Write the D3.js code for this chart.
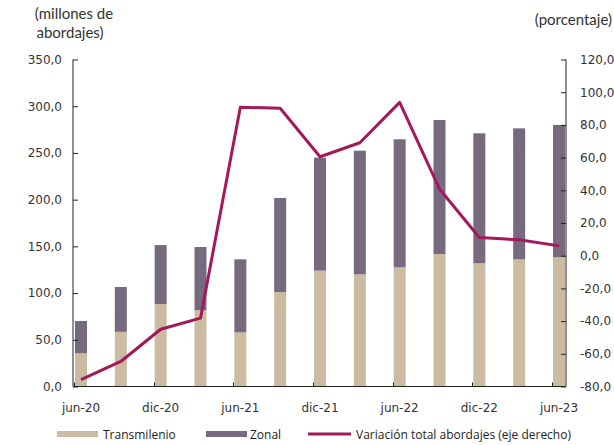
<!DOCTYPE html>
<html><head><meta charset="utf-8">
<script src="https://cdn.jsdelivr.net/npm/d3@7"></script>
<style>
html,body{margin:0;padding:0;background:#fff;}
svg{display:block;}
</style></head>
<body><svg id="c" width="614" height="445"></svg>
<script>
const categories = ["jun-20","sep-20","dic-20","mar-21","jun-21","sep-21","dic-21","mar-22","jun-22","sep-22","dic-22","mar-23","jun-23"];
const transmilenio = [35.5, 58.5, 88.3, 81.6, 58.0, 101.1, 124.0, 120.1, 127.6, 141.8, 131.9, 136.1, 138.3];
const zonal = [34.6, 48.0, 63.1, 67.7, 78.1, 100.7, 120.9, 132.3, 137.0, 143.4, 139.1, 140.2, 141.6];
const variacion = [-75.8, -64.7, -45.0, -38.2, 90.8, 90.2, 60.5, 69.1, 93.8, 40.8, 11.1, 9.7, 6.0];
const leftTicks = [0, 50, 100, 150, 200, 250, 300, 350];
const rightTicks = [-80, -60, -40, -20, 0, 20, 40, 60, 80, 100, 120];
const xLabels = ["jun-20","dic-20","jun-21","dic-21","jun-22","dic-22","jun-23"];

const colTM = "#cbbba0", colZ = "#766a7f", colLine = "#a3195b";
const svg = d3.select("#c");
const L = 73, R = 566, T = 59.5, B = 386.5;
const x = d3.scaleBand().domain(categories).range([75, 565]).paddingInner(0.699).paddingOuter(0);
const yL = d3.scaleLinear().domain([0, 350]).range([B, T]);
const yR = d3.scaleLinear().domain([-80, 120]).range([B, T]);
const fmt = v => d3.format(".1f")(v).replace(".", ",").replace("−","-");
const tickFont = "'DejaVu Sans', Verdana, sans-serif";

// bars
const g = svg.append("g");
categories.forEach((c, i) => {
  g.append("rect").attr("x", x(c)).attr("width", x.bandwidth())
    .attr("y", yL(transmilenio[i])).attr("height", yL(0) - yL(transmilenio[i])).attr("fill", colTM);
  g.append("rect").attr("x", x(c)).attr("width", x.bandwidth())
    .attr("y", yL(transmilenio[i] + zonal[i])).attr("height", yL(0) - yL(zonal[i])).attr("fill", colZ);
});

// left axis
const axL = d3.axisLeft(yL).tickValues(leftTicks).tickSize(-5).tickPadding(11).tickFormat(fmt);
const gL = svg.append("g").attr("transform", `translate(${L},0)`).call(axL);
gL.select(".domain").attr("d", `M0,${T}V${B}`).attr("stroke", "#222");
gL.selectAll(".tick line").attr("stroke", "#222");
gL.selectAll("text").attr("font-family", tickFont).attr("font-size", 12).attr("fill", "#333");

// right axis
const axR = d3.axisRight(yR).tickValues(rightTicks).tickSize(-5).tickPadding(14).tickFormat(fmt);
const gR = svg.append("g").attr("transform", `translate(${R},0)`).call(axR);
gR.select(".domain").attr("d", `M0,${T}V${B}`).attr("stroke", "#222");
gR.selectAll(".tick line").attr("stroke", "#222");
gR.selectAll("text").attr("font-family", tickFont).attr("font-size", 12).attr("fill", "#333");

// x axis
const gX = svg.append("g");
gX.append("line").attr("x1", L).attr("x2", R).attr("y1", B).attr("y2", B).attr("stroke", "#222");
categories.forEach((c, i) => {
  if (i % 2 === 0) {
    const tx = Math.round(x(c) - 1) + 0.5;
    gX.append("line").attr("x1", tx).attr("x2", tx).attr("y1", B).attr("y2", B - 4).attr("stroke", "#222");
  }
  if (xLabels.includes(c)) {
    gX.append("text").attr("x", x(c) + x.bandwidth() / 2).attr("y", 412)
      .attr("text-anchor", "middle").attr("font-family", tickFont).attr("font-size", 12).attr("fill", "#333").text(c);
  }
});

// line
const line = d3.line().x((d, i) => x(categories[i]) + x.bandwidth() / 2).y(d => yR(d));
svg.append("path").datum(variacion).attr("d", line).attr("fill", "none")
  .attr("stroke", colLine).attr("stroke-width", 3).attr("stroke-linejoin", "round");

// axis titles
const titleFont = "Lato, 'Open Sans', sans-serif";
const tl = svg.append("text").attr("font-family", titleFont).attr("font-size", 15).attr("fill", "#333").attr("text-anchor", "middle");
tl.append("tspan").attr("x", 74).attr("y", 19).text("(millones de");
tl.append("tspan").attr("x", 70).attr("y", 38).text("abordajes)");
svg.append("text").attr("x", 612).attr("y", 25).attr("text-anchor", "end").attr("font-family", titleFont)
  .attr("font-size", 15).attr("fill", "#333").text("(porcentaje)");

// legend
const legFont = "'Open Sans', sans-serif";
const lg = svg.append("g");
lg.append("rect").attr("x", 57).attr("y", 431).attr("width", 41).attr("height", 6).attr("fill", colTM);
lg.append("text").attr("x", 103).attr("y", 439).attr("font-family", legFont).attr("font-size", 12).attr("fill", "#222").text("Transmilenio");
lg.append("rect").attr("x", 206).attr("y", 431).attr("width", 41).attr("height", 6).attr("fill", colZ);
lg.append("text").attr("x", 250).attr("y", 439).attr("font-family", legFont).attr("font-size", 12).attr("fill", "#222").text("Zonal");
lg.append("line").attr("x1", 308).attr("x2", 351).attr("y1", 434).attr("y2", 434).attr("stroke", colLine).attr("stroke-width", 3);
lg.append("text").attr("x", 356).attr("y", 439).attr("font-family", legFont).attr("font-size", 12).attr("fill", "#222").text("Variación total abordajes (eje derecho)");
</script></body></html>
